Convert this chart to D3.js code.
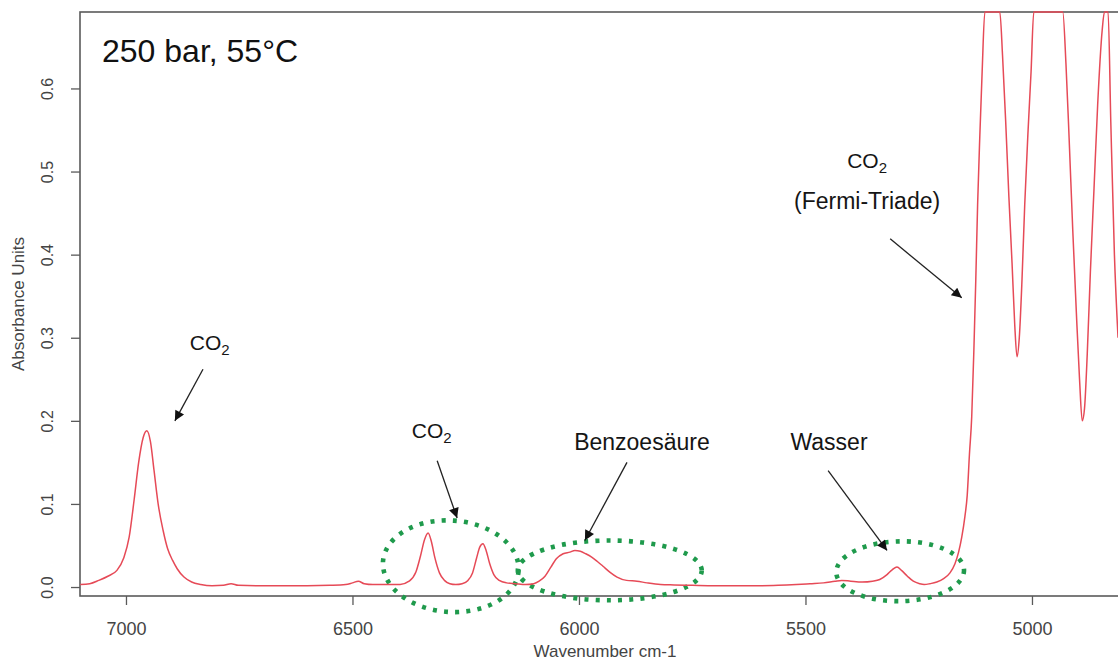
<!DOCTYPE html>
<html>
<head>
<meta charset="utf-8">
<script src="https://cdn.jsdelivr.net/npm/d3@7"></script>
<style>
  html, body { margin: 0; padding: 0; background: #fff; }
  svg { display: block; font-family: "Liberation Sans", Arial, sans-serif; }
</style>
</head>
<body>
<svg id="chart" width="1118" height="664"></svg>
<script>
// NIR spectrum of supercritical CO2 with benzoic acid, 250 bar / 55 °C
const wavenumber = [
  7101, 7080, 7060, 7040, 7020, 7005, 6993, 6982, 6972, 6962, 6954, 6946, 6938, 6929, 6918,
  6908, 6897, 6887, 6872, 6855, 6835, 6810, 6785, 6768, 6752, 6700, 6650, 6600, 6550, 6515,
  6500, 6487, 6474, 6455, 6420, 6395, 6375, 6360, 6350, 6341, 6333, 6326, 6318, 6308, 6297,
  6285, 6272, 6258, 6245, 6235, 6226, 6219, 6212, 6205, 6197, 6188, 6176, 6160, 6140, 6118,
  6100, 6088, 6075, 6062, 6050, 6035, 6020, 6009, 5997, 5985, 5972, 5960, 5947, 5932, 5916,
  5895, 5872, 5850, 5820, 5790, 5750, 5700, 5650, 5600, 5560, 5520, 5490, 5460, 5435, 5420,
  5400, 5375, 5352, 5336, 5320, 5308, 5298, 5288, 5275, 5262, 5248, 5238, 5225, 5210, 5195,
  5181, 5170, 5162, 5155, 5148, 5143, 5138, 5133, 5128, 5124, 5120, 5115, 5110, 5104, 5085,
  5071, 5065, 5058, 5051, 5044, 5038, 5033, 5028, 5022, 5016, 5009, 5002, 4996, 4960, 4932,
  4925, 4918, 4910, 4902, 4895, 4889, 4884, 4878, 4871, 4863, 4855, 4845, 4840, 4832, 4826,
  4818, 4810
];
const absorbance = [
  0.003, 0.004, 0.008, 0.013, 0.020, 0.035, 0.060, 0.105, 0.150, 0.180, 0.188, 0.175, 0.140, 0.100, 0.068,
  0.046, 0.032, 0.022, 0.012, 0.006, 0.003, 0.0015, 0.002, 0.004, 0.002, 0.0015, 0.0015, 0.0015, 0.002, 0.003,
  0.005, 0.007, 0.004, 0.003, 0.003, 0.003, 0.007, 0.018, 0.037, 0.057, 0.065, 0.055, 0.035, 0.017, 0.008,
  0.004, 0.003, 0.004, 0.008, 0.017, 0.035, 0.048, 0.052, 0.044, 0.028, 0.015, 0.008, 0.005, 0.004, 0.003,
  0.004, 0.007, 0.013, 0.024, 0.034, 0.040, 0.042, 0.044, 0.043, 0.040, 0.036, 0.031, 0.025, 0.018, 0.012,
  0.008, 0.007, 0.005, 0.003, 0.0025, 0.002, 0.0015, 0.0015, 0.0015, 0.002, 0.003, 0.004, 0.005, 0.007, 0.008,
  0.007, 0.006, 0.007, 0.009, 0.015, 0.021, 0.024, 0.020, 0.013, 0.007, 0.004, 0.003, 0.004, 0.006, 0.010,
  0.017, 0.028, 0.042, 0.060, 0.085, 0.110, 0.160, 0.205, 0.290, 0.370, 0.460, 0.545, 0.620, 0.692, 0.692,
  0.692, 0.640, 0.560, 0.470, 0.390, 0.315, 0.277, 0.300, 0.370, 0.460, 0.545, 0.620, 0.692, 0.692, 0.692,
  0.630, 0.540, 0.430, 0.330, 0.250, 0.200, 0.215, 0.280, 0.380, 0.480, 0.580, 0.670, 0.692, 0.692, 0.560,
  0.400, 0.300
];

const xTicks = [7000, 6500, 6000, 5500, 5000];
const yTicks = [0.0, 0.1, 0.2, 0.3, 0.4, 0.5, 0.6];

// Band annotations: label anchor, arrow start and tip in data units (wavenumber, absorbance)
const labels = [
  { text: "CO", sub: "2", w: 6815, a: 0.285 },
  { text: "CO", sub: "2", w: 6325, a: 0.179 },
  { text: "Benzoesäure", sub: "", w: 5861, a: 0.1645 },
  { text: "Wasser", sub: "", w: 5448, a: 0.1645 },
  { text: "CO", sub: "2", w: 5364, a: 0.504 },
  { text: "(Fermi-Triade)", sub: "", w: 5364, a: 0.455 }
];
const arrows = [
  { w0: 6830, a0: 0.262, w1: 6892, a1: 0.200 },
  { w0: 6313, a0: 0.152, w1: 6269, a1: 0.083 },
  { w0: 5894, a0: 0.150, w1: 5987, a1: 0.056 },
  { w0: 5450, a0: 0.140, w1: 5320, a1: 0.044 },
  { w0: 5313, a0: 0.419, w1: 5155, a1: 0.348 }
];
// Dotted ellipses around the weak bands (centre, half-widths in data units, tilt in degrees)
const ellipses = [
  { w: 6283, a: 0.025, rw: 150, ra: 0.055, tilt: 4 },
  { w: 5932, a: 0.020, rw: 203, ra: 0.036, tilt: 0 },
  { w: 5291, a: 0.019, rw: 141, ra: 0.036, tilt: -1 }
];

const svg = d3.select("#chart");
const plotLeft = 80, plotRight = 1130, plotTop = 12, plotBottom = 596;

const x = d3.scaleLinear().domain([7101.5, 4783.6]).range([plotLeft, plotRight]);
const y = d3.scaleLinear().domain([-0.0108, 0.692]).range([plotBottom, plotTop]);

const defs = svg.append("defs");
defs.append("clipPath").attr("id", "plotclip")
  .append("rect").attr("x", plotLeft).attr("y", plotTop - 1)
  .attr("width", plotRight - plotLeft).attr("height", plotBottom - plotTop + 1);
defs.append("marker")
  .attr("id", "head").attr("viewBox", "0 0 10 10")
  .attr("refX", 10).attr("refY", 5)
  .attr("markerWidth", 15).attr("markerHeight", 10)
  .attr("markerUnits", "userSpaceOnUse")
  .attr("orient", "auto")
  .append("path").attr("d", "M0,0 L10,5 L0,10 Z").attr("fill", "#111");

const axisColor = "#5a5a5a";
const labelColor = "#444";

// x axis
const gx = svg.append("g").attr("transform", `translate(0,${plotBottom})`)
  .call(d3.axisBottom(x).tickValues(xTicks).tickSize(9).tickPadding(17).tickFormat(d3.format("d")));
gx.select(".domain").remove();
gx.selectAll(".tick line").attr("stroke", axisColor).attr("stroke-width", 1.3);
gx.selectAll(".tick text").attr("fill", labelColor).attr("font-size", 18)
  .attr("font-family", "Liberation Sans, Arial, sans-serif");

// y axis with rotated tick labels
const gy = svg.append("g").attr("transform", `translate(${plotLeft},0)`)
  .call(d3.axisLeft(y).tickValues(yTicks).tickSize(9).tickFormat(d3.format(".1f")));
gy.select(".domain").remove();
gy.selectAll(".tick line").attr("stroke", axisColor).attr("stroke-width", 1.3);
gy.selectAll(".tick text")
  .attr("fill", labelColor).attr("font-size", 16)
  .attr("font-family", "Liberation Sans, Arial, sans-serif")
  .attr("text-anchor", "middle").attr("dy", null).attr("x", null)
  .attr("transform", "translate(-33,0) rotate(-90)")
  .attr("dominant-baseline", "central");

// axis titles
svg.append("text").attr("x", (plotLeft + plotRight) / 2).attr("y", 657)
  .attr("text-anchor", "middle").attr("font-size", 17).attr("fill", labelColor)
  .text("Wavenumber cm-1");
svg.append("text")
  .attr("transform", `translate(24,${(plotTop + plotBottom) / 2}) rotate(-90)`)
  .attr("text-anchor", "middle").attr("font-size", 17).attr("fill", labelColor)
  .text("Absorbance Units");

// plot frame
svg.append("rect").attr("x", plotLeft).attr("y", plotTop)
  .attr("width", plotRight - plotLeft).attr("height", plotBottom - plotTop)
  .attr("fill", "none").attr("stroke", axisColor).attr("stroke-width", 1.6);

// dotted ellipses
svg.append("g").selectAll("ellipse").data(ellipses).join("ellipse")
  .attr("cx", 0).attr("cy", 0)
  .attr("rx", d => Math.abs(x(d.w + d.rw) - x(d.w)))
  .attr("ry", d => Math.abs(y(d.a + d.ra) - y(d.a)))
  .attr("transform", d => `translate(${x(d.w)},${y(d.a)}) rotate(${d.tilt})`)
  .attr("fill", "none").attr("stroke", "#1f9a4c").attr("stroke-width", 4.6)
  .attr("stroke-dasharray", "4 7.2");

// spectrum
const pts = wavenumber.map((w, i) => [w, absorbance[i]]);
svg.append("path")
  .datum(pts)
  .attr("clip-path", "url(#plotclip)")
  .attr("fill", "none").attr("stroke", "#e64a57").attr("stroke-width", 1.5)
  .attr("d", d3.line().x(d => x(d[0])).y(d => y(d[1])).curve(d3.curveMonotoneX));

// arrows
svg.append("g").selectAll("line").data(arrows).join("line")
  .attr("x1", d => x(d.w0)).attr("y1", d => y(d.a0))
  .attr("x2", d => x(d.w1)).attr("y2", d => y(d.a1))
  .attr("stroke", "#222").attr("stroke-width", 1.3)
  .attr("marker-end", "url(#head)");

// band labels
const lab = svg.append("g").selectAll("text").data(labels).join("text")
  .attr("x", d => x(d.w)).attr("y", d => y(d.a))
  .attr("text-anchor", "middle")
  .attr("font-size", d => d.sub ? 21 : 23)
  .attr("fill", "#151515");
lab.append("tspan").text(d => d.text);
lab.filter(d => d.sub).append("tspan")
  .attr("font-size", 15).attr("dy", 5).text(d => d.sub);

// measurement conditions
svg.append("text").attr("x", plotLeft + 22).attr("y", plotTop + 50)
  .attr("font-size", 32).attr("fill", "#111")
  .text("250 bar, 55°C");
</script>
</body>
</html>
